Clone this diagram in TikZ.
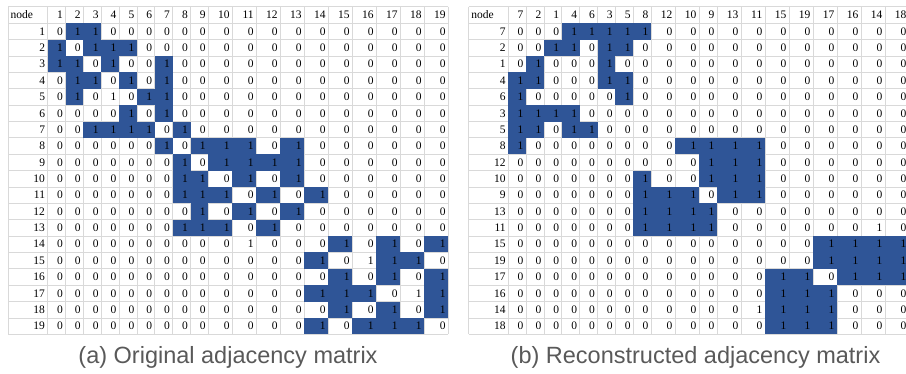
\documentclass[tikz,border=0pt]{standalone}
\usepackage{fontspec}
\setmainfont{Liberation Serif}
\newfontfamily\capfont{Liberation Sans}
\definecolor{cellblue}{HTML}{2F5597}
\definecolor{gridgray}{HTML}{D9D9D9}
\definecolor{capgray}{HTML}{595959}
\tikzset{
  gridline/.style={draw=gridgray,line width=0.8pt},
  celltext/.style={font=\fontsize{11.5}{12}\selectfont,inner sep=0pt,text=black},
  captext/.style={font=\capfont\fontsize{23.5}{26}\selectfont,inner sep=0pt,text=capgray},
}
\def\rowtop{23.3}
\def\rowh{16.37}
\def\headtop{6.7}
\def\tbottom{334.33}
\newcommand\setupcols[2]{%
  \xdef\curx{#1}%
  \foreach \lab [count=\j] in {#2} {%
    \pgfmathsetmacro\cw{\lab<10 ? 17.85 : 24}%
    \pgfmathsetmacro\nx{\curx+\cw}%
    \expandafter\xdef\csname cl\j\endcsname{\curx}%
    \expandafter\xdef\csname cr\j\endcsname{\nx}%
    \expandafter\xdef\csname lab\j\endcsname{\lab}%
    \xdef\curx{\nx}%
  }%
}
\newcommand\drawmat[4]{%
  \pgfmathsetmacro\firstx{#2+39.7}%
  \setupcols{\firstx}{#3}%
  \edef\tright{\curx}%
  \foreach \k in {0,...,20} {%
    \pgfmathsetmacro\yy{\k==0 ? \headtop : \rowtop+(\k-1)*\rowh}%
    \draw[gridline] (#2,\yy) -- (\tright,\yy);
  }%
  \draw[gridline] (#2,\headtop) -- (#2,\tbottom);
  \foreach \j in {1,...,19} {%
    \edef\xl{\csname cl\j\endcsname}%
    \draw[gridline] (\xl,\headtop) -- (\xl,\tbottom);
  }%
  \draw[gridline] (\tright,\headtop) -- (\tright,\tbottom);
  \pgfmathsetmacro\hb{\rowtop-4.3}%
  \node[celltext,anchor=base west] (#1-head) at (#2+2.5,\hb) {node};
  \foreach \j in {1,...,19} {%
    \edef\xr{\csname cr\j\endcsname}%
    \edef\lb{\csname lab\j\endcsname}%
    \node[celltext,anchor=base east] (#1-h\j) at (\xr-2.5,\hb) {\lb};
  }%
  \foreach \rl/\vals [count=\i] in {#4} {%
    \pgfmathsetmacro\yb{\rowtop+\i*\rowh}%
    \pgfmathsetmacro\yt{\yb-\rowh}%
    \node[celltext,anchor=base east] (#1-r\i) at (\firstx-2.5,\yb-4.5) {\rl};
    \foreach \v [count=\j] in \vals {%
      \edef\xl{\csname cl\j\endcsname}%
      \edef\xr{\csname cr\j\endcsname}%
      \ifnum\v=2 \fill[cellblue] (\xl,\yt) rectangle (\xr,\yb);\fi
      \node[celltext,anchor=base east] (#1-\i-\j) at (\xr-2.5,\yb-4.5) {\ifnum\v=0 0\else 1\fi};
    }%
  }%
}
\begin{document}
\begin{tikzpicture}[x=1pt,y=-1pt]
\useasboundingbox (0,0) rectangle (906,374);
\drawmat{a}{8}{1,2,3,4,5,6,7,8,9,10,11,12,13,14,15,16,17,18,19}{
1/{0,2,2,0,0,0,0,0,0,0,0,0,0,0,0,0,0,0,0},
2/{2,0,2,2,2,0,0,0,0,0,0,0,0,0,0,0,0,0,0},
3/{2,2,0,2,0,0,2,0,0,0,0,0,0,0,0,0,0,0,0},
4/{0,2,2,0,2,0,2,0,0,0,0,0,0,0,0,0,0,0,0},
5/{0,2,0,1,0,2,2,0,0,0,0,0,0,0,0,0,0,0,0},
6/{0,0,0,0,2,0,2,0,0,0,0,0,0,0,0,0,0,0,0},
7/{0,0,2,2,2,2,0,2,0,0,0,0,0,0,0,0,0,0,0},
8/{0,0,0,0,0,0,2,0,2,2,2,0,2,0,0,0,0,0,0},
9/{0,0,0,0,0,0,0,2,0,2,2,2,2,0,0,0,0,0,0},
10/{0,0,0,0,0,0,0,2,2,0,2,0,2,0,0,0,0,0,0},
11/{0,0,0,0,0,0,0,2,2,2,0,2,0,2,0,0,0,0,0},
12/{0,0,0,0,0,0,0,0,2,0,2,0,2,0,0,0,0,0,0},
13/{0,0,0,0,0,0,0,2,2,2,0,2,0,0,0,0,0,0,0},
14/{0,0,0,0,0,0,0,0,0,0,1,0,0,0,2,0,2,0,2},
15/{0,0,0,0,0,0,0,0,0,0,0,0,0,2,0,1,2,2,0},
16/{0,0,0,0,0,0,0,0,0,0,0,0,0,0,2,0,2,0,2},
17/{0,0,0,0,0,0,0,0,0,0,0,0,0,2,2,2,0,1,2},
18/{0,0,0,0,0,0,0,0,0,0,0,0,0,0,2,0,2,0,2},
19/{0,0,0,0,0,0,0,0,0,0,0,0,0,2,0,2,2,2,0}}
\drawmat{b}{468.6}{7,2,1,4,6,3,5,8,12,10,9,13,11,15,19,17,16,14,18}{
7/{0,0,0,2,2,2,2,2,0,0,0,0,0,0,0,0,0,0,0},
2/{0,0,2,2,0,2,2,0,0,0,0,0,0,0,0,0,0,0,0},
1/{0,2,0,0,0,2,0,0,0,0,0,0,0,0,0,0,0,0,0},
4/{2,2,0,0,0,2,2,0,0,0,0,0,0,0,0,0,0,0,0},
6/{2,0,0,0,0,0,2,0,0,0,0,0,0,0,0,0,0,0,0},
3/{2,2,2,2,0,0,0,0,0,0,0,0,0,0,0,0,0,0,0},
5/{2,2,0,2,2,0,0,0,0,0,0,0,0,0,0,0,0,0,0},
8/{2,0,0,0,0,0,0,0,0,2,2,2,2,0,0,0,0,0,0},
12/{0,0,0,0,0,0,0,0,0,0,2,2,2,0,0,0,0,0,0},
10/{0,0,0,0,0,0,0,2,0,0,2,2,2,0,0,0,0,0,0},
9/{0,0,0,0,0,0,0,2,2,2,0,2,2,0,0,0,0,0,0},
13/{0,0,0,0,0,0,0,2,2,2,2,0,0,0,0,0,0,0,0},
11/{0,0,0,0,0,0,0,2,2,2,2,0,0,0,0,0,0,1,0},
15/{0,0,0,0,0,0,0,0,0,0,0,0,0,0,0,2,2,2,2},
19/{0,0,0,0,0,0,0,0,0,0,0,0,0,0,0,2,2,2,2},
17/{0,0,0,0,0,0,0,0,0,0,0,0,0,2,2,0,2,2,2},
16/{0,0,0,0,0,0,0,0,0,0,0,0,0,2,2,2,0,0,0},
14/{0,0,0,0,0,0,0,0,0,0,0,0,1,2,2,2,0,0,0},
18/{0,0,0,0,0,0,0,0,0,0,0,0,0,2,2,2,0,0,0}}
\node[captext,anchor=base] (capa) at (228,364) {(a) Original adjacency matrix};
\node[captext,anchor=base] (capb) at (695.5,364) {(b) Reconstructed adjacency matrix};
\end{tikzpicture}
\end{document}
